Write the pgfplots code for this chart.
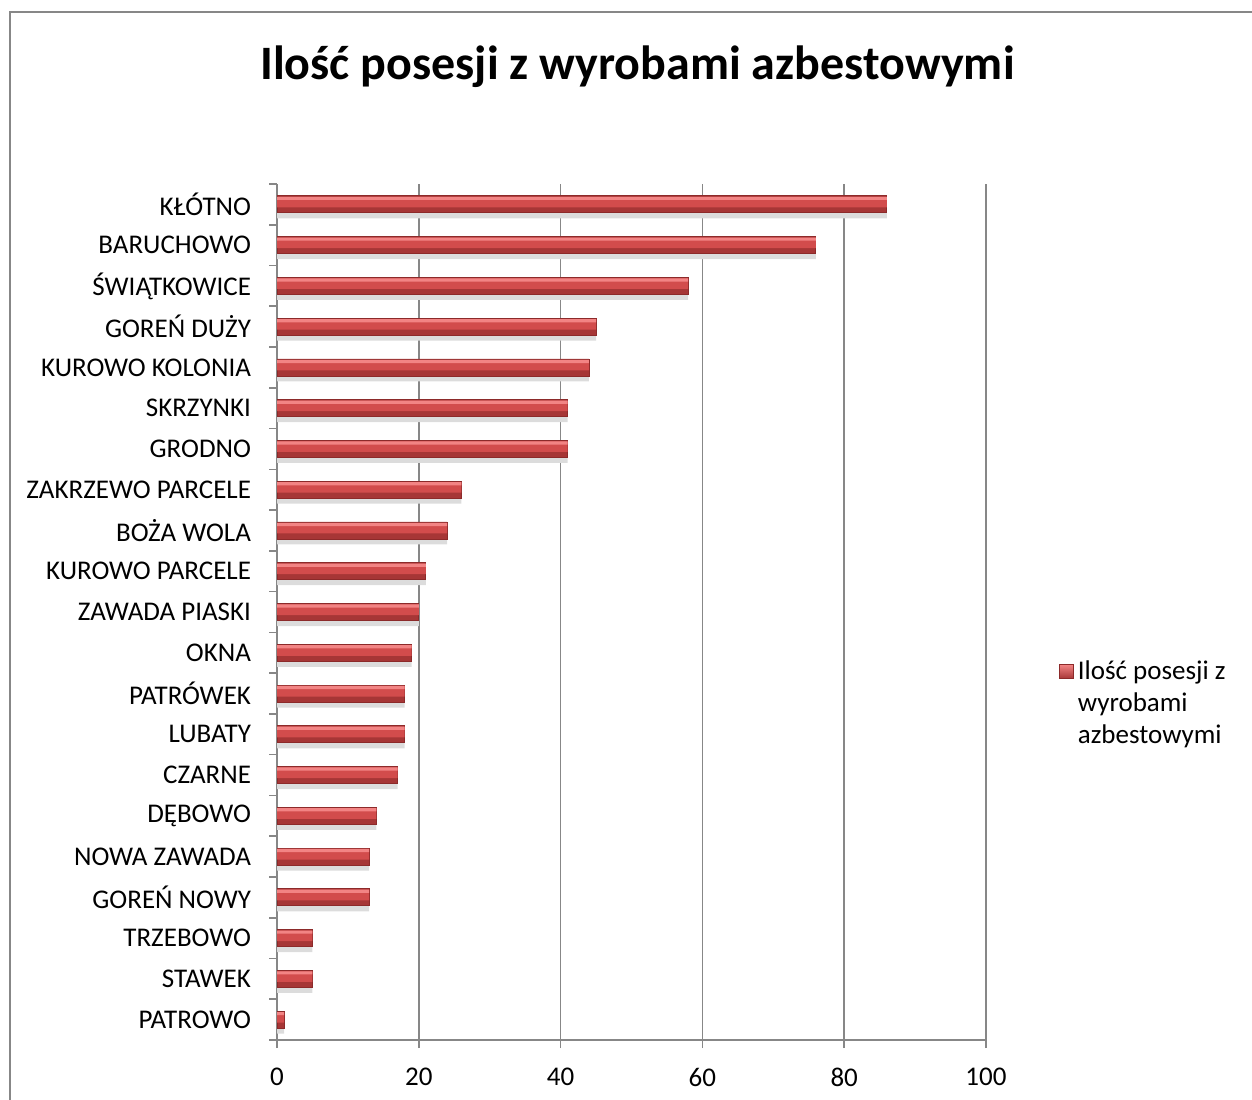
\documentclass[border=0pt]{standalone}
\usepackage{pgfplots}
\usepackage{pgfplotstable}
\pgfplotsset{compat=1.18}
\usepackage{fontspec}
\setmainfont{Carlito}
\definecolor{gridgray}{HTML}{878787}
\definecolor{barlight}{HTML}{F28484}
\definecolor{barmid}{HTML}{D24C4C}
\definecolor{bardark}{HTML}{A63636}
\definecolor{baredge}{HTML}{8C2A2A}
\definecolor{shadow}{HTML}{DCDCDC}

% count per village, 0 = bottom row
\pgfplotstableread{
y  n
0  1
1  5
2  5
3  13
4  13
5  14
6  17
7  18
8  18
9  19
10 20
11 21
12 24
13 26
14 41
15 41
16 44
17 45
18 58
19 76
20 86
}\villages

\begin{document}
\begin{tikzpicture}
\useasboundingbox (0,0) rectangle (626pt,549.5pt);
\draw[gridgray, line width=1pt] (5pt,-2pt) -- (5pt,543.5pt) -- (630pt,543.5pt);
\node[font=\fontsize{24}{28}\selectfont\bfseries, anchor=base] at (318.75pt,509.5pt) {Ilość posesji z wyrobami azbestowymi};
\begin{axis}[
  at={(138.5pt,29.5pt)}, anchor=south west,
  scale only axis, width=354.5pt, height=428pt,
  xbar, bar width=8.5pt,
  xmin=0, xmax=100, ymin=-0.5, ymax=20.5,
  axis x line=bottom, axis y line=left,
  axis line style={gridgray, line width=0.8pt, -},
  xtick={0,20,...,100},
  ytick={0,...,20},
  yticklabels={PATROWO, STAWEK, TRZEBOWO, GOREŃ NOWY, NOWA ZAWADA\hspace{3pt}, DĘBOWO, CZARNE, LUBATY, PATRÓWEK, OKNA, ZAWADA PIASKI, KUROWO PARCELE, BOŻA WOLA, ZAKRZEWO PARCELE, GRODNO, SKRZYNKI, KUROWO KOLONIA, GOREŃ DUŻY, ŚWIĄTKOWICE, BARUCHOWO, KŁÓTNO},
  minor ytick={-0.5,0.5,...,20.5},
  tick align=outside, major tick length=4pt, minor tick length=4pt,
  major y tick style={draw=none},
  minor y tick style={gridgray, line width=0.8pt},
  major x tick style={gridgray, line width=0.8pt},
  xmajorgrids, grid style={gridgray, line width=0.8pt},
  tick label style={font=\fontsize{13.5}{16}\selectfont},
  /pgf/number format/assume math mode=true,
  yticklabel style={xshift=-5.5pt},
  xticklabel style={yshift=-6.5pt},
  legend style={at={(1.094,0.393)}, anchor=west, draw=none, fill=none,
    font=\fontsize{13.5}{16}\selectfont, cells={anchor=west, align=left}},
  legend image code/.code={\draw[baredge, top color=barlight, bottom color=bardark] (0pt,12.5pt) rectangle (7pt,19.5pt);},
]
% soft shadow under each bar
\addplot[xbar, draw=none, fill=shadow, bar width=6pt, bar shift=-4pt, forget plot] table[x=n, y=y] {\villages};
% bar body: dark base, medium middle, light top stripe
\addplot[xbar, draw=baredge, fill=bardark, bar shift=0pt] table[x=n, y=y] {\villages};
\addlegendentry{Ilość posesji z\\wyrobami\\azbestowymi}
\addplot[xbar, draw=none, fill=barmid, bar width=5.3pt, bar shift=1.15pt, forget plot] table[x=n, y=y] {\villages};
\addplot[xbar, draw=none, fill=barlight, bar width=1.6pt, bar shift=3pt, forget plot] table[x=n, y=y] {\villages};
\end{axis}
\end{tikzpicture}
\end{document}
